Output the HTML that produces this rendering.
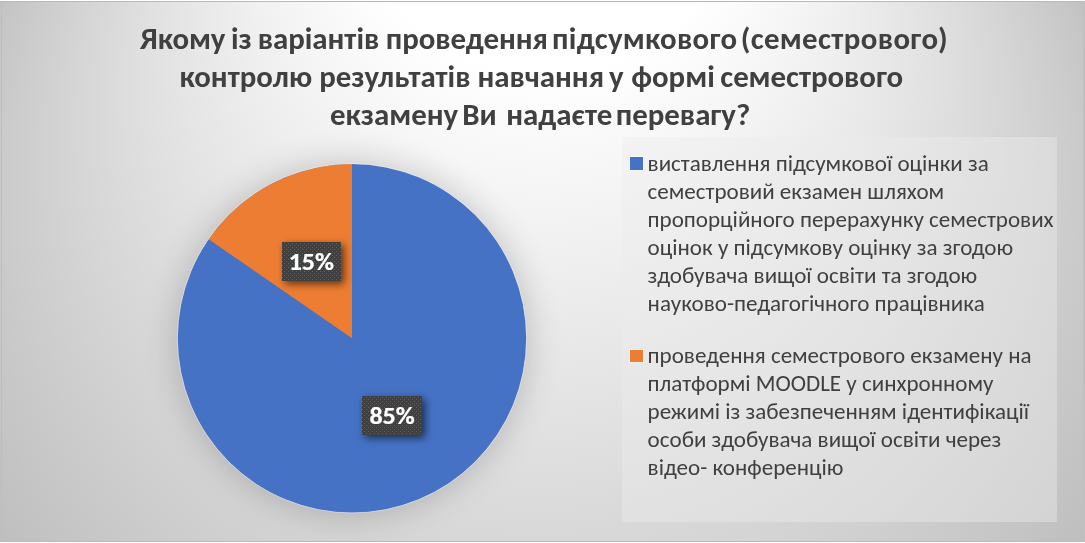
<!DOCTYPE html>
<html><head><meta charset="utf-8"><style>
html,body{margin:0;padding:0;background:#fff;}
body{width:1085px;height:543px;position:relative;overflow:hidden;font-family:"Carlito","Liberation Sans",sans-serif;}

.t{position:absolute;left:1.2px;width:1084px;text-align:center;font-weight:bold;font-size:30.87px;color:#404040;white-space:nowrap;line-height:1;}
#legend{position:absolute;left:622px;top:137px;width:435px;height:385px;background:rgba(237,237,237,0.42);}
.li{position:absolute;left:647.6px;font-size:23.05px;color:#404040;white-space:nowrap;line-height:1;}
.sq{position:absolute;left:630px;width:13px;height:13px;box-shadow:0 0 0 1px rgba(255,255,255,0.4);}
.lab{position:absolute;width:59px;height:39px;color:#fff;font-weight:bold;font-size:25px;text-align:center;line-height:39px;
background-color:#404040;box-shadow:3px 3px 8px rgba(0,0,0,0.6);overflow:hidden;}
.lab svg{position:absolute;left:0;top:0;}
.lab span{position:relative;display:inline-block;-webkit-text-stroke:0.2px #fff;transform:translate(0.3px,0.1px) scaleX(1.04);}
</style></head><body>
<svg width="1085" height="543" style="position:absolute;left:0;top:0">
<defs>
<filter id="sh" x="-30%" y="-30%" width="160%" height="160%">
<feGaussianBlur in="SourceAlpha" stdDeviation="18"/>
<feOffset dx="0" dy="1" result="b"/>
<feComponentTransfer><feFuncA type="linear" slope="0.22"/></feComponentTransfer>
<feMerge><feMergeNode/><feMergeNode in="SourceGraphic"/></feMerge>
</filter>
<radialGradient id="bgg" gradientUnits="userSpaceOnUse" cx="534.9" cy="680" r="1115" fx="547.5" fy="-323.6" gradientTransform="translate(534.9 680) scale(1 0.95175) translate(-534.9 -680)">
<stop offset="0" stop-color="#fff"/><stop offset="0.1716" stop-color="#fff"/><stop offset="1" stop-color="rgb(115.5,115.5,115.5)"/>
</radialGradient>
</defs>
<rect x="0" y="1" width="1085" height="541" fill="url(#bgg)"/>
<rect x="0" y="1" width="1085" height="1" fill="#b9b9b9"/>
<rect x="0" y="541" width="1085" height="1" fill="#bababa"/>
<rect x="1" y="1" width="1" height="541" fill="#bdbdbd"/>
<rect x="1083" y="1" width="2" height="541" fill="#c0c0c0"/>
<g filter="url(#sh)">
<circle cx="352" cy="338.3" r="174.2" fill="#4472C4"/>
<path d="M352,338.3 L352,164.1 A174.2,174.2 0 0 0 208.64,239.34 Z" fill="#ED7D31"/>
</g>
<circle cx="352" cy="338.3" r="174.7" fill="none" stroke="#fff" stroke-opacity="0.3" stroke-width="1"/>
</svg>
<div class="t" style="top:24px;left:140px;width:auto;text-align:left">Якому <span style="margin-left:-1.5px"></span>із <span style="margin-left:-1px"></span>варіантів <span style="margin-left:-0.5px"></span>проведення <span style="margin-left:-3px"></span><span style="letter-spacing:0.33px">підсумкового</span> <span style="margin-left:-3.8px"></span><span style="letter-spacing:0.4px">(семестрового)</span></div>
<div class="t" style="top:62px;left:179.5px;width:auto;text-align:left">контролю результатів навчання <span style="margin-left:-2px"></span>у <span style="margin-left:0.5px"></span>формі <span style="margin-left:-1.5px"></span>семестрового</div>
<div class="t" style="top:100px;left:330px;width:auto;text-align:left">екзамену <span style="margin-left:-3px"></span>Ви <span style="margin-left:2.5px"></span>надаєте <span style="margin-left:-3.5px"></span>перевагу?</div>



<div id="legend"></div>
<div class="sq" style="top:157px;background:#4472C4"></div>
<div class="sq" style="top:350px;height:12px;background:#ED7D31"></div>
<div class="li" style="top:152px">виставлення підсумкової оцінки за</div>
<div class="li" style="top:180px">семестровий екзамен шляхом</div>
<div class="li" style="top:208px">пропорційного перерахунку семестрових</div>
<div class="li" style="top:236px">оцінок у підсумкову оцінку за згодою</div>
<div class="li" style="top:264px">здобувача вищої освіти та згодою</div>
<div class="li" style="top:292px">науково-педагогічного працівника</div>
<div class="li" style="top:344px">проведення семестрового екзамену на</div>
<div class="li" style="top:372px">платформі MOODLE у синхронному</div>
<div class="li" style="top:400px">режимі із забезпеченням ідентифікації</div>
<div class="li" style="top:428px">особи здобувача вищої освіти через</div>
<div class="li" style="top:456px">відео- конференцію</div>

<div class="lab" style="left:282px;top:242px"><svg width="59" height="39" viewBox="282 242 59 39"><defs><pattern id="p1" patternUnits="userSpaceOnUse" x="0" y="0" width="4" height="4"><rect x="0" y="3" width="1" height="1" fill="#606060"/><rect x="2" y="1" width="1" height="1" fill="#606060"/></pattern></defs><rect x="282" y="242" width="59" height="39" fill="url(#p1)"/></svg><span style="transform:translate(-0.5px,-0.2px) scaleX(1.04)">15%</span></div>
<div class="lab" style="left:362px;top:396px;width:60px"><svg width="60" height="39" viewBox="362 396 60 39"><defs><pattern id="p2" patternUnits="userSpaceOnUse" x="0" y="0" width="4" height="4"><rect x="0" y="3" width="1" height="1" fill="#606060"/><rect x="2" y="1" width="1" height="1" fill="#606060"/></pattern></defs><rect x="362" y="396" width="60" height="39" fill="url(#p2)"/></svg><span>85%</span></div>
</body></html>
